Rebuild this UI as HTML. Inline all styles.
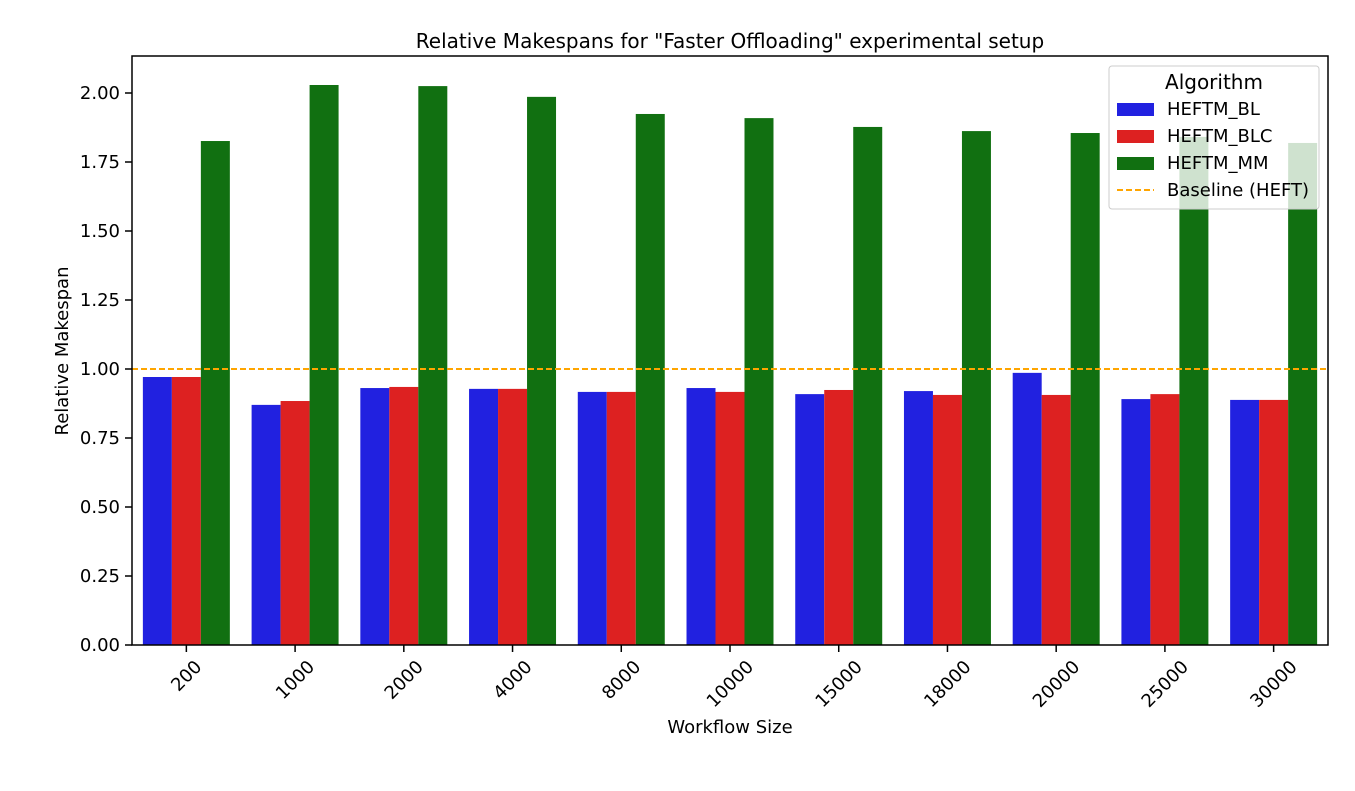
<!DOCTYPE html>
<html><head><meta charset="utf-8"><style>
body{margin:0;background:#fff;}
svg{display:block;font-family:"DejaVu Sans","Liberation Sans",sans-serif;}
</style></head><body>
<svg id="chart" width="1355" height="791">
<text x="730" y="48" text-anchor="middle" font-size="20">Relative Makespans for "Faster Offloading" experimental setup</text>
<g id="bars"></g>
<g id="axes"></g>
<text x="730" y="733" text-anchor="middle" font-size="18">Workflow Size</text>
<text transform="translate(68,351) rotate(-90)" text-anchor="middle" font-size="18">Relative Makespan</text>
</svg>
<script>
const categories=["200","1000","2000","4000","8000","10000","15000","18000","20000","25000","30000"];
const seriesNames=["HEFTM_BL","HEFTM_BLC","HEFTM_MM"];
const bl=[0.971,0.870,0.931,0.928,0.917,0.931,0.909,0.920,0.986,0.891,0.888];
const blc=[0.971,0.884,0.935,0.928,0.917,0.917,0.924,0.906,0.906,0.909,0.888];
const mm=[1.826,2.029,2.025,1.986,1.924,1.909,1.877,1.862,1.855,1.841,1.819];
const yTicks=[0,0.25,0.5,0.75,1.0,1.25,1.5,1.75,2.0];
const baseline=1.0;
const colors=["#2121e0","#dd2121","#117011"];
const L=132,R=1328,T=56,B=645;
const y=v=>B-v*276;
const band=(R-L)/categories.length;
const xc=i=>L+band*(i+0.5);
const NS="http://www.w3.org/2000/svg";
function mk(tag,attrs,parent){const e=document.createElementNS(NS,tag);for(const k in attrs)e.setAttribute(k,attrs[k]);parent.appendChild(e);return e;}
const gb=document.getElementById('bars'),ga=document.getElementById('axes');
const data=[bl,blc,mm];const bw=band*0.8/3;
data.forEach((s,si)=>s.forEach((v,i)=>{
  const r=mk('rect',{x:xc(i)-band*0.4+si*bw,y:y(v),width:bw,height:B-y(v),fill:colors[si]},gb);
  
  
}));
const bl1=mk('line',{x1:L,x2:R,y1:y(baseline),y2:y(baseline),stroke:'orange','stroke-width':2,'stroke-dasharray':'6,3'},gb);


const fr=mk('rect',{x:L,y:T,width:R-L,height:B-T,fill:'none',stroke:'#000','stroke-width':1.5},ga);


yTicks.forEach(t=>{
  mk('line',{x1:L-7,x2:L,y1:y(t),y2:y(t),stroke:'#000','stroke-width':1.5},ga);
  const tx=mk('text',{x:L-12,y:y(t)+6,'text-anchor':'end','font-size':18},ga);tx.textContent=t.toFixed(2);
  
  
});
categories.forEach((c,i)=>{
  mk('line',{x1:xc(i),x2:xc(i),y1:B,y2:B+7,stroke:'#000','stroke-width':1.5},ga);
  const tx=mk('text',{x:0,y:6,'text-anchor':'middle','font-size':18},ga);tx.textContent=c;
  const w=tx.getComputedTextLength();const h=16;
  const bh=(w+h)*Math.SQRT1_2;
  tx.setAttribute('transform',`translate(${xc(i)},${B+13+bh/2}) rotate(-45)`);
  
  
});
const lg=mk('g',{},ga);


mk('rect',{x:1109,y:66,width:210,height:143,rx:3,fill:'rgba(255,255,255,0.8)',stroke:'#ccc'},lg);
const lt=mk('text',{x:1214,y:89,'text-anchor':'middle','font-size':20},lg);lt.textContent='Algorithm';
seriesNames.concat(['Baseline (HEFT)']).forEach((n,i)=>{
  const yy=109+i*27;
  if(i<3) mk('rect',{x:1117,y:yy-6,width:37,height:13,fill:colors[i]},lg);
  else mk('line',{x1:1117,x2:1154,y1:yy,y2:yy,stroke:'orange','stroke-width':2,'stroke-dasharray':'6,3'},lg);
  const t=mk('text',{x:1167,y:yy+6,'font-size':18},lg);t.textContent=n;
  
  
});
</script>
</body></html>
